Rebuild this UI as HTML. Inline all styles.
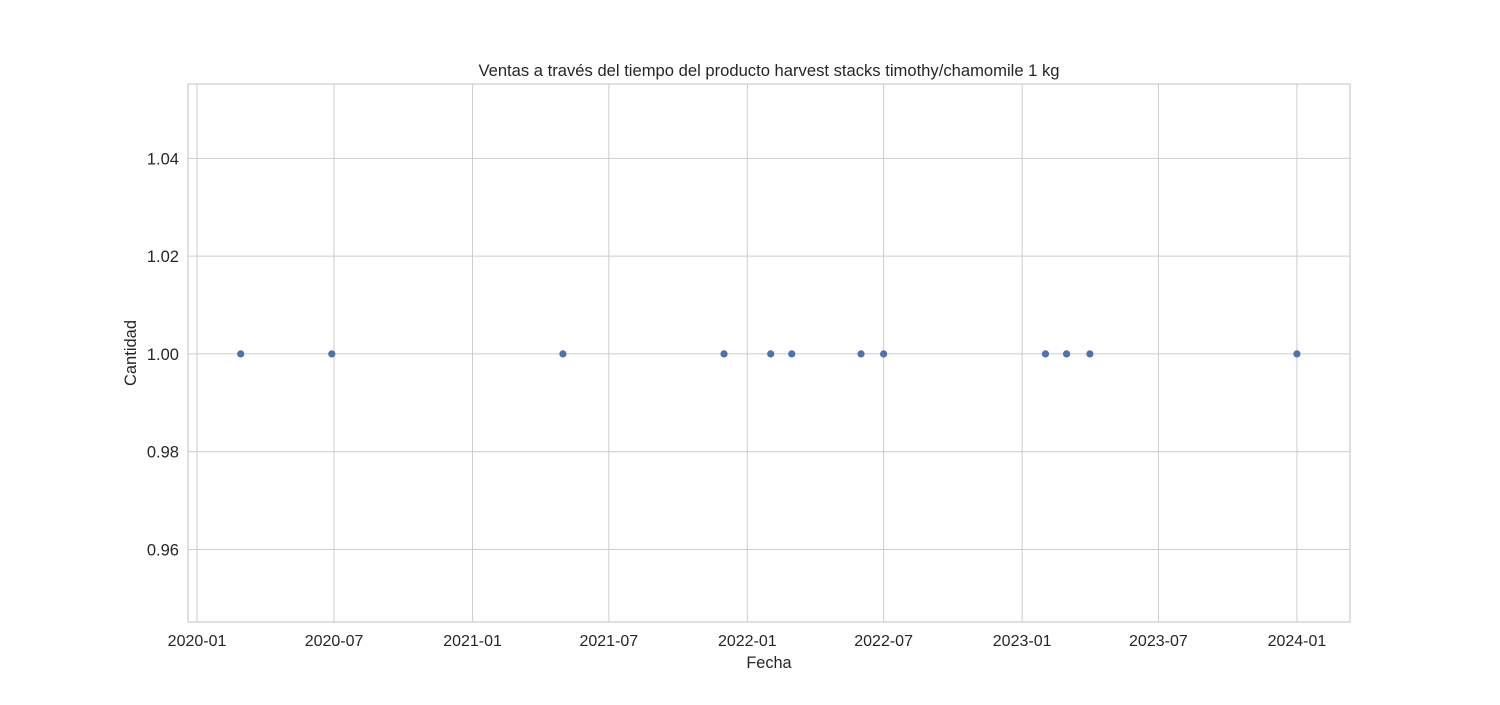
<!DOCTYPE html>
<html><head><meta charset="utf-8"><style>
body{margin:0;background:#fff;font-family:"Liberation Sans","DejaVu Sans",sans-serif}
</style></head><body>
<svg id="chart" width="1500" height="700" xmlns="http://www.w3.org/2000/svg" font-family="Liberation Sans, DejaVu Sans, sans-serif"></svg>
<script>
const dates=["2020-02-28","2020-06-28","2021-05-01","2021-12-01","2022-02-01","2022-03-01","2022-06-01","2022-07-01","2023-02-01","2023-03-01","2023-04-01","2024-01-01"];
const quantities=[1,1,1,1,1,1,1,1,1,1,1,1];
const xTicks=["2020-01","2020-07","2021-01","2021-07","2022-01","2022-07","2023-01","2023-07","2024-01"];
const yTicks=[0.96,0.98,1.00,1.02,1.04];
const svg=document.getElementById('chart');
const NS="http://www.w3.org/2000/svg";
const L=188,R=1350,T=84,B=622;
const day=864e5;
const t0=Date.UTC(2020,0,1);
const xmin=t0-12*day,xmax=t0+1531.5*day;
const ymin=0.94517,ymax=1.0552;
function ts(s){const p=s.split('-').map(Number);return Date.UTC(p[0],p[1]-1,p[2]||1);}
function x(s){return L+(ts(s)-xmin)/(xmax-xmin)*(R-L);}
function y(v){return B-(v-ymin)/(ymax-ymin)*(B-T);}
function el(tag,attrs,txt){const e=document.createElementNS(NS,tag);for(const k in attrs)e.setAttribute(k,attrs[k]);if(txt!==undefined)e.textContent=txt;svg.appendChild(e);return e;}
let e;
xTicks.forEach(t=>{const px=x(t);
e=el('line',{x1:px,x2:px,y1:T,y2:B,stroke:'#cccccc','stroke-width':1});

e=el('text',{x:px,y:B+24,'text-anchor':'middle','font-size':16,fill:'#262626'},t);

});
yTicks.forEach(v=>{const py=y(v);
e=el('line',{x1:L,x2:R,y1:py,y2:py,stroke:'#cccccc','stroke-width':1});

e=el('text',{x:L-9,y:py+6,'text-anchor':'end','font-size':16.5,fill:'#262626'},v.toFixed(2));

});
e=el('rect',{x:L,y:T,width:R-L,height:B-T,fill:'none',stroke:'#cccccc','stroke-width':1.2});

dates.forEach((d,i)=>{
e=el('circle',{cx:x(d),cy:y(quantities[i]),r:3.6,fill:'#4c72b0'});

});
e=el('text',{x:(L+R)/2,y:76,'text-anchor':'middle','font-size':16.6,fill:'#262626'},'Ventas a través del tiempo del producto harvest stacks timothy/chamomile 1 kg');

e=el('text',{x:(L+R)/2,y:668,'text-anchor':'middle','font-size':16.3,fill:'#262626'},'Fecha');

e=el('text',{x:136,y:(T+B)/2,'text-anchor':'middle','font-size':16.5,fill:'#262626',transform:`rotate(-90 136 ${(T+B)/2})`},'Cantidad');

</script>
</body></html>
